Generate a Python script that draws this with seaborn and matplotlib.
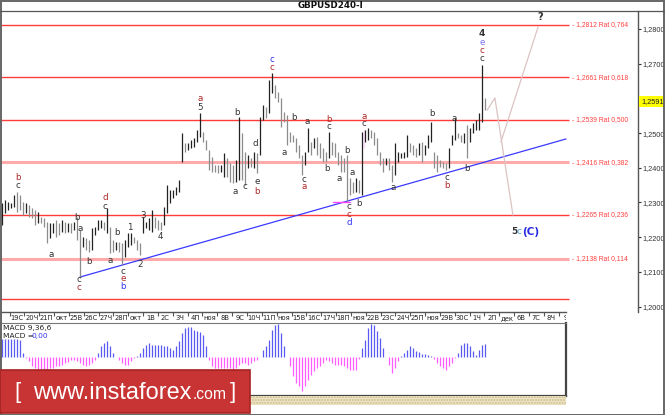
import numpy as np
import pandas as pd
import matplotlib
matplotlib.use("Agg")
import matplotlib.pyplot as plt
import seaborn as sns
from matplotlib.patches import Rectangle
from matplotlib.lines import Line2D
from matplotlib.ticker import FuncFormatter
import matplotlib.transforms as mtransforms

# ---------------- data ----------------
bar_high = [
    1.2299, 1.2307, 1.2302, 1.2299, 1.2322, 1.2330, 1.2322, 1.2302, 1.2299, 1.2293,
    1.2284, 1.2278, 1.2273, 1.2258, 1.2255, 1.2244, 1.2241, 1.2241, 1.2249, 1.2241,
    1.2249, 1.2244, 1.2241, 1.2241, 1.2244, 1.2258, 1.2220, 1.2201, 1.2198, 1.2192,
    1.2226, 1.2229, 1.2249, 1.2249, 1.2244, 1.2284, 1.2229, 1.2192, 1.2186, 1.2186,
    1.2183, 1.2192, 1.2212, 1.2212, 1.2201, 1.2192, 1.2183, 1.2258, 1.2244, 1.2255,
    1.2278, 1.2258, 1.2249, 1.2244, 1.2287, 1.2350, 1.2336, 1.2336, 1.2345, 1.2365,
    1.2500, 1.2471, 1.2471, 1.2480, 1.2486, 1.2509, 1.2558, 1.2503, 1.2480, 1.2451,
    1.2431, 1.2408, 1.2408, 1.2408, 1.2443, 1.2428, 1.2414, 1.2408, 1.2422, 1.2546,
    1.2500, 1.2445, 1.2437, 1.2428, 1.2445, 1.2443, 1.2546, 1.2581, 1.2575, 1.2653,
    1.2673, 1.2639, 1.2618, 1.2601, 1.2561, 1.2552, 1.2503, 1.2494, 1.2486, 1.2466,
    1.2437, 1.2445, 1.2515, 1.2474, 1.2486, 1.2489, 1.2471, 1.2457, 1.2445, 1.2503,
    1.2474, 1.2471, 1.2445, 1.2437, 1.2428, 1.2437, 1.2370, 1.2359, 1.2370, 1.2365,
    1.2503, 1.2509, 1.2515, 1.2509, 1.2503, 1.2486, 1.2445, 1.2428, 1.2428, 1.2428,
    1.2408, 1.2471, 1.2445, 1.2443, 1.2445, 1.2494, 1.2471, 1.2466, 1.2457, 1.2471,
    1.2474, 1.2466, 1.2494, 1.2532, 1.2445, 1.2437, 1.2422, 1.2417, 1.2414, 1.2457,
    1.2494, 1.2543, 1.2500, 1.2494, 1.2500, 1.2523, 1.2515, 1.2529, 1.2538, 1.2558,
    1.2696, 1.2601,
]
bar_low = [
    1.2235, 1.2270, 1.2278, 1.2284, 1.2287, 1.2273, 1.2278, 1.2264, 1.2270, 1.2258,
    1.2255, 1.2235, 1.2241, 1.2241, 1.2229, 1.2183, 1.2198, 1.2212, 1.2201, 1.2206,
    1.2215, 1.2212, 1.2215, 1.2212, 1.2220, 1.2192, 1.2082, 1.2172, 1.2163, 1.2157,
    1.2163, 1.2206, 1.2220, 1.2226, 1.2220, 1.2212, 1.2154, 1.2157, 1.2163, 1.2157,
    1.2120, 1.2143, 1.2172, 1.2177, 1.2183, 1.2163, 1.2149, 1.2212, 1.2226, 1.2220,
    1.2215, 1.2226, 1.2220, 1.2220, 1.2235, 1.2270, 1.2299, 1.2313, 1.2322, 1.2330,
    1.2417, 1.2445, 1.2451, 1.2457, 1.2460, 1.2474, 1.2489, 1.2474, 1.2451, 1.2394,
    1.2388, 1.2388, 1.2385, 1.2388, 1.2373, 1.2373, 1.2359, 1.2356, 1.2359, 1.2365,
    1.2365, 1.2350, 1.2399, 1.2402, 1.2399, 1.2385, 1.2437, 1.2538, 1.2543, 1.2558,
    1.2615, 1.2601, 1.2590, 1.2517, 1.2532, 1.2466, 1.2474, 1.2474, 1.2445, 1.2428,
    1.2379, 1.2408, 1.2445, 1.2437, 1.2457, 1.2437, 1.2428, 1.2417, 1.2417, 1.2428,
    1.2437, 1.2431, 1.2408, 1.2388, 1.2388, 1.2302, 1.2322, 1.2327, 1.2330, 1.2327,
    1.2322, 1.2474, 1.2480, 1.2486, 1.2466, 1.2437, 1.2408, 1.2388, 1.2408, 1.2394,
    1.2359, 1.2379, 1.2417, 1.2428, 1.2428, 1.2431, 1.2445, 1.2437, 1.2431, 1.2437,
    1.2417, 1.2437, 1.2457, 1.2474, 1.2399, 1.2388, 1.2402, 1.2399, 1.2394, 1.2399,
    1.2466, 1.2480, 1.2486, 1.2474, 1.2471, 1.2428, 1.2474, 1.2500, 1.2509, 1.2509,
    1.2532, 1.2566,
]
macd_hist = [
    18, 18, 18, 18, 18, 18, 17, 4, -1,
    -4, -9, -11, -13, -13, -13, -13, -11, -11, -9, -9, -8, -6, -5, -3, -3, -4, -6, -8, -9, -8, -6, -3,
    4, 11, 14, 16, 11, 4, 0, -3, -6, -8, -8, -4, -1, 1, 4, 9, 12, 14, 12, 12, 12, 12, 11, 11, 9, 7,
    11, 16, 24, 29, 30, 30, 27, 26, 25, 22, 11,
    -3, -9, -11, -11, -11, -11, -11, -11, -13, -11, -8, -6, -6, -8, -6, -4, -3, 0, 7, 11, 17, 27,
    32, 33, 24, 11, 0, -9, -19, -26, -29, -34, -29, -23, -18, -14, -11, -9, -6, -3,
    -4, -6,
    -8, -8, -8, -9, -11, -13, -13, -13, -2, 9, 17, 29, 33, 32, 26, 19, 9, 0, -8, -16, -11, -4, 1,
    4, 7, 11, 9, 6, 5, 3, 3, 2, 1, -2, -6, -9, -11, -13, -9, -6, -1, 4, 12, 14, 14, 11, 6, 2, 7,
    12, 13,
]
last_price = 1.2591
fib_levels = [1.2812, 1.2661, 1.2539, 1.2416, 1.2265, 1.2138]
fib_ratios = ["0,764", "0,618", "0,500", "0,382", "0,236", "0,114"]
base_level = 1.2023
price_ticks = [1.20, 1.21, 1.22, 1.23, 1.24, 1.25, 1.26, 1.27, 1.28]
date_labels = ["19С", "20Ч", "21П", "окт", "25В", "26С", "27Ч", "28П", "окт", "1В",
               "2С", "3Ч", "4П", "ноя", "8В", "9С", "10Ч", "11П", "ноя", "15В",
               "16С", "17Ч", "18П", "ноя", "22В", "23С", "24Ч", "25П", "ноя", "29В",
               "30С", "1Ч", "2П", "дек", "6В", "7С", "8Ч", "9"]
trend_bars = [26, 188]
trend_prices = [1.2085, 1.2483]
fc_main_bars = [161.7, 164.3, 170.3]
fc_main_prices = [1.2566, 1.2601, 1.2264]
fc_alt_bars = [166.3, 178.7]
fc_alt_prices = [1.2474, 1.2806]
mark_h_bars = [110.3, 116.0]
mark_h_prices = [1.2302, 1.2302]
mark_v_bars = [120.7, 120.7]
mark_v_prices = [1.2509, 1.2457]

wave_labels = [
    (5.3, 1.2373, "b", "r"), (5.3, 1.2350, "c", "k"), (16.3, 1.2149, "a", "k"),
    (25.0, 1.2258, "b", "k"), (26.0, 1.2226, "a", "k"), (25.7, 1.2077, "c", "k"),
    (25.7, 1.2056, "c", "r"), (29.0, 1.2131, "b", "k"), (34.3, 1.2313, "d", "r"),
    (34.3, 1.2287, "c", "k"), (36.0, 1.2134, "a", "k"), (38.3, 1.2212, "b", "k"),
    (40.3, 1.2100, "c", "k"), (40.3, 1.2080, "e", "r"), (40.3, 1.2057, "b", "b"),
    (42.7, 1.2229, "1", "k"), (46.0, 1.2120, "2", "k"), (47.0, 1.2261, "3", "k"),
    (52.7, 1.2201, "4", "k"), (66.0, 1.2601, "a", "r"), (66.0, 1.2575, "5", "k"),
    (78.3, 1.2558, "b", "k"), (77.7, 1.2333, "a", "k"), (81.0, 1.2345, "c", "k"),
    (84.3, 1.2471, "d", "k"), (85.0, 1.2359, "e", "k"), (85.0, 1.2333, "b", "r"),
    (90.0, 1.2711, "c", "b"), (90.0, 1.2688, "c", "r"), (94.0, 1.2445, "a", "k"),
    (97.3, 1.2546, "b", "k"), (101.7, 1.2532, "a", "k"), (100.7, 1.2365, "c", "k"),
    (100.7, 1.2345, "a", "r"), (109.0, 1.2540, "b", "r"), (109.0, 1.2520, "c", "k"),
    (108.3, 1.2399, "b", "k"), (115.0, 1.2451, "b", "k"), (112.3, 1.2368, "a", "k"),
    (116.7, 1.2385, "a", "k"), (115.7, 1.2287, "c", "k"), (115.7, 1.2266, "c", "r"),
    (115.7, 1.2243, "d", "b"), (119.0, 1.2296, "b", "k"), (120.7, 1.2549, "a", "r"),
    (120.7, 1.2529, "c", "k"), (130.3, 1.2342, "a", "k"), (143.3, 1.2555, "b", "k"),
    (148.3, 1.2373, "c", "k"), (148.3, 1.2350, "b", "r"), (150.7, 1.2543, "a", "k"),
    (155.0, 1.2399, "b", "k"), (160.0, 1.2760, "e", "lb"), (160.0, 1.2737, "c", "r"),
    (160.0, 1.2714, "c", "k"),
]

# ---------------- style ----------------
sns.set_theme(style="white")
plt.rcParams["font.family"] = ["DejaVu Sans"]
label_colors = {"k": "#333333", "r": "#b02828", "b": "#3535f0", "lb": "#7a70f0"}
small_fam = ["Liberation Sans", "DejaVu Sans"]

W, H = 665, 415
fig = plt.figure(figsize=(W / 100, H / 100), dpi=100)
fig.patch.set_facecolor("white")


def box(x0, y0, x1, y1):
    return [x0 / W, 1 - y1 / H, (x1 - x0) / W, (y1 - y0) / H]


n = len(bar_high)
idx = np.arange(n)
hi = np.array(bar_high)
lo = np.array(bar_low)
mid = (hi + lo) / 2

# ---------------- main price panel ----------------
ax = fig.add_axes(box(0, 11, 638, 312))
ax.set_facecolor("white")
ax.set_xlim(-2 / 3, 212)
ax.set_ylim(1.19843, 1.28518)
for s in ["top", "left", "bottom"]:
    ax.spines[s].set_visible(False)
ax.spines["right"].set_color("#555555")
ax.spines["right"].set_linewidth(1.0)
ax.set_xticks([])
ax.yaxis.tick_right()
ax.set_yticks(price_ticks)
ax.yaxis.set_major_formatter(FuncFormatter(lambda v, p: f"{v:.4f}".replace(".", ",")))
ax.tick_params(axis="y", right=True, length=2.5, width=0.8, pad=0.8, labelsize=5.3,
               colors="#333333", direction="out")
for lab in ax.get_yticklabels():
    lab.set_family(small_fam)

fib_df = pd.DataFrame({"level": fib_levels, "ratio": fib_ratios})
for k, row in fib_df.iterrows():
    thick = row["level"] in (1.2416, 1.2138)
    ax.hlines(row["level"], -1, 189, color="#ffaaaa" if thick else "#ff3b3b",
              lw=2.2 if thick else 1.0, zorder=1)
    ax.text(190.0, row["level"], f"- {row['level']:.4f}".replace(".", ",") + f" Rat {row['ratio']}",
            color="#ff4040", fontsize=4.9, va="center", ha="left", family=small_fam)
ax.hlines(base_level, -1, 189, color="#ff3b3b", lw=1.0, zorder=1)

colors = ["#222222"] + ["#222222" if mid[i] >= mid[i - 1] else "#8c8c8c" for i in range(1, n)]
ax.vlines(idx, lo, hi, colors=colors, lw=0.9, zorder=3)

sns.lineplot(x=trend_bars, y=trend_prices, ax=ax, color="#3a3aff", lw=0.9, sort=False, zorder=2)
sns.lineplot(x=fc_main_bars, y=fc_main_prices, ax=ax, color="#dcc3c3", lw=0.9, sort=False, zorder=2)
sns.lineplot(x=fc_alt_bars, y=fc_alt_prices, ax=ax, color="#dcc3c3", lw=0.9, sort=False, zorder=2)
sns.lineplot(x=mark_h_bars, y=mark_h_prices, ax=ax, color="#ff44ff", lw=1.0, sort=False, zorder=4)
sns.lineplot(x=mark_v_bars, y=mark_v_prices, ax=ax, color="#ff44ff", lw=1.0, sort=False, zorder=4)

for b, p, t, c in wave_labels:
    ax.text(b, p, t, color=label_colors[c], fontsize=6.3, ha="center", va="center", zorder=5)
ax.text(160.0, 1.2786, "4", color="#333333", fontsize=6.5, ha="center", va="center",
        weight="bold", zorder=5)
ax.text(179.3, 1.2835, "?", color="#333333", fontsize=7, ha="center", va="center",
        weight="bold", zorder=5)
ax.text(170.7, 1.2215, "5", color="#333333", fontsize=6.5, ha="center", va="center", weight="bold")
ax.text(172.3, 1.2215, "c", color="#4aa0e0", fontsize=6.5, ha="center", va="center")
ax.text(173.5, 1.2215, "(C)", color="#2a2ae0", fontsize=7.5, ha="left", va="center", weight="bold")

trans = mtransforms.blended_transform_factory(ax.transAxes, ax.transData)
ax.text(1.0 + 3 / 638, last_price, "1,2591", transform=trans, fontsize=5.3, color="#222222",
        ha="left", va="center", zorder=10, clip_on=False, family=small_fam,
        bbox=dict(facecolor="#ffff00", edgecolor="none", pad=1.5))

# ---------------- date row ----------------
axd = fig.add_axes(box(0, 312, 566, 323))
axd.set_xlim(-2 / 3, 188)
axd.set_ylim(0, 1)
axd.set_xticks([])
axd.set_yticks([])
for s in ["left", "right", "bottom"]:
    axd.spines[s].set_visible(False)
axd.spines["top"].set_color("#555555")
axd.spines["top"].set_linewidth(1.0)
axd.set_facecolor("white")
pos = np.linspace(5, 188, len(date_labels))
step = pos[1] - pos[0]
axd.vlines(pos - step / 2, 0.65, 1.0, color="#555555", lw=0.8)
for x, lab in zip(pos, date_labels):
    axd.text(x, 0.42, lab, fontsize=4.9, ha="center", va="center", color="#222222", clip_on=True)

# ---------------- MACD panel ----------------
axm = fig.add_axes(box(0, 323, 566, 396))
axm.set_xlim(-2 / 3, 188)
axm.set_ylim(-38.7, 34.3)
axm.set_xticks([])
axm.set_yticks([])
axm.set_facecolor("white")
for s in ["top", "left"]:
    axm.spines[s].set_color("#777777")
    axm.spines[s].set_linewidth(0.8)
for s in ["right", "bottom"]:
    axm.spines[s].set_color("#444444")
    axm.spines[s].set_linewidth(1.6)
mv = np.array(macd_hist)
axm.vlines(idx, 0, mv, colors=np.where(mv >= 0, "#5a5af2", "#ff5cff"), lw=0.9)
axm.text(3 / 566, 1 - 4.5 / 73, "MACD 9,36,6", transform=axm.transAxes, fontsize=5.4,
         color="#222222", ha="left", va="center")
axm.text(3 / 566, 1 - 12.5 / 73, "MACD =", transform=axm.transAxes, fontsize=5.4,
         color="#222222", ha="left", va="center")
axm.text(31 / 566, 1 - 12.5 / 73, "0,00", transform=axm.transAxes, fontsize=5.4,
         color="#3535f0", ha="left", va="center")

# ---------------- hatched strip ----------------
axh = fig.add_axes(box(0, 396, 566, 405))
axh.set_axis_off()
axh.add_patch(Rectangle((0, 0), 1, 1, transform=axh.transAxes, facecolor="#efe6c6",
                        edgecolor="#cbbb8e", hatch="......", lw=0))

# ---------------- frame, title ----------------
fig.add_artist(Line2D([0, 1], [1 - 11.5 / H, 1 - 11.5 / H], color="#555555", lw=0.9))
fig.add_artist(Rectangle((0.5 / W, 0.5 / H), 1 - 1.5 / W, 1 - 1.5 / H, fill=False,
                         edgecolor="#666666", lw=1.4, transform=fig.transFigure))
fig.text(331 / W, 1 - 5.8 / H, "GBPUSD240-I", fontsize=6.3, weight="bold", ha="center",
         va="center", color="#111111")

# ---------------- banner ----------------
fig.add_artist(Rectangle((0, 1 - 413 / H), 250 / W, 43 / H, facecolor="#c83434",
                         edgecolor="#a52424", lw=1.2, transform=fig.transFigure, zorder=20))
fam = ["Liberation Sans Narrow", "Liberation Sans", "DejaVu Sans"]
renderer = fig.canvas.get_renderer()
t_main = fig.text(33 / W, 1 - 399 / H, "www.instaforex", fontsize=20, color="white",
                  family=fam, ha="left", va="baseline", zorder=21)
bb = t_main.get_window_extent(renderer)
t_main.set_fontsize(20 * 158 / bb.width)
bb = t_main.get_window_extent(renderer)
t_com = fig.text((bb.x1 + 1) / W, 1 - 399 / H, ".com", fontsize=20, color="white",
                 family=fam, ha="left", va="baseline", zorder=21)
bc = t_com.get_window_extent(renderer)
t_com.set_fontsize(20 * 34 / bc.width)
fig.text(18 / W, 1 - 392 / H, "[", fontsize=16, color="white", family=fam, ha="center",
         va="center", zorder=21)
fig.text(233 / W, 1 - 392 / H, "]", fontsize=16, color="white", family=fam, ha="center",
         va="center", zorder=21)

fig.savefig("out.png", dpi=100)
